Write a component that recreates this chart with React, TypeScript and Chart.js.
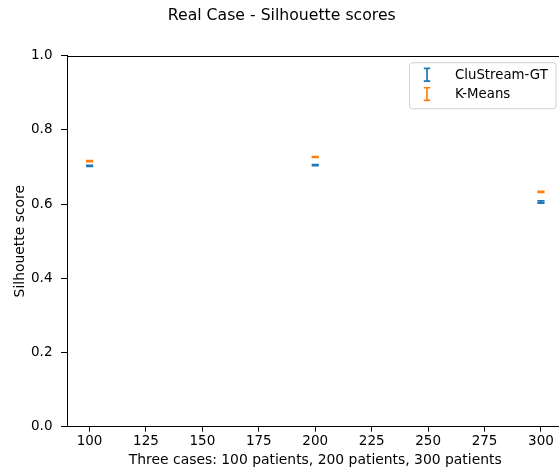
import React, { useEffect, useRef } from "react";
import { Chart, registerables } from "chart.js";

Chart.register(...registerables);

const cases = [100, 200, 300];
const xTickValues = [100, 125, 150, 175, 200, 225, 250, 275, 300];
const yTickValues = [0, 0.2, 0.4, 0.6, 0.8, 1.0];
const seriesNames = ["CluStream-GT", "K-Means"];
const clustreamScores = [0.703, 0.705, 0.606];
const clustreamErrors = [0.0012, 0.0012, 0.003];
const kmeansScores = [0.716, 0.727, 0.633];
const kmeansErrors = [0.0012, 0.0012, 0.0012];
const seriesColors = ["#1f77b4", "#ff7f0e"];

const FONT = "DejaVu Sans";

const errorBarPlugin = {
  id: "errorBars",
  afterDatasetsDraw(chart: any) {
    const { ctx } = chart;
    const xs = chart.scales.x;
    const ys = chart.scales.y;
    const all = [
      { v: clustreamScores, e: clustreamErrors, c: seriesColors[0] },
      { v: kmeansScores, e: kmeansErrors, c: seriesColors[1] },
    ];
    ctx.save();
    const area = chart.chartArea;
    ctx.beginPath();
    ctx.rect(area.left, area.top, area.right - area.left, area.bottom - area.top);
    ctx.clip();
    all.forEach((s) => {
      ctx.strokeStyle = s.c;
      ctx.lineWidth = 1.8;
      cases.forEach((cx, i) => {
        const px = xs.getPixelForValue(cx);
        const t = ys.getPixelForValue(s.v[i] + s.e[i]);
        const b = ys.getPixelForValue(s.v[i] - s.e[i]);
        ctx.beginPath();
        ctx.moveTo(px, t);
        ctx.lineTo(px, b);
        ctx.moveTo(px - 3.6, t);
        ctx.lineTo(px + 3.6, t);
        ctx.moveTo(px - 3.6, b);
        ctx.lineTo(px + 3.6, b);
        ctx.stroke();
      });
    });
    ctx.restore();
  },
  afterDraw(chart: any) {
    const { ctx, chartArea: a } = chart;
    ctx.save();
    // frame (top + right spines)
    ctx.strokeStyle = "#000";
    ctx.lineWidth = 1;
    ctx.beginPath();
    ctx.moveTo(Math.round(a.left) + 0.5, Math.round(a.top) + 0.5);
    ctx.lineTo(Math.round(a.right) + 0.5, Math.round(a.top) + 0.5);
    ctx.lineTo(Math.round(a.right) + 0.5, Math.round(a.bottom) + 0.5);
    ctx.stroke();

    // legend
    const w = 146.5;
    const h = 46;
    const x0 = a.right - 7.5 - w;
    const y0 = a.top + 7;
    const r = 3;
    ctx.beginPath();
    ctx.moveTo(x0 + r, y0);
    ctx.lineTo(x0 + w - r, y0);
    ctx.quadraticCurveTo(x0 + w, y0, x0 + w, y0 + r);
    ctx.lineTo(x0 + w, y0 + h - r);
    ctx.quadraticCurveTo(x0 + w, y0 + h, x0 + w - r, y0 + h);
    ctx.lineTo(x0 + r, y0 + h);
    ctx.quadraticCurveTo(x0, y0 + h, x0, y0 + h - r);
    ctx.lineTo(x0, y0 + r);
    ctx.quadraticCurveTo(x0, y0, x0 + r, y0);
    ctx.closePath();
    ctx.fillStyle = "rgba(255,255,255,0.8)";
    ctx.fill();
    ctx.strokeStyle = "#d0d0d0";
    ctx.lineWidth = 1;
    ctx.stroke();

    ctx.font = `13.3px "${FONT}"`;
    ctx.textBaseline = "middle";
    ctx.textAlign = "left";
    seriesNames.forEach((name, i) => {
      const cy = y0 + 12 + i * 19.3;
      const ix = x0 + 17.5;
      ctx.strokeStyle = seriesColors[i];
      ctx.lineWidth = 1.7;
      ctx.beginPath();
      ctx.moveTo(ix, cy - 6.3);
      ctx.lineTo(ix, cy + 6.3);
      ctx.moveTo(ix - 3.2, cy - 6.3);
      ctx.lineTo(ix + 3.2, cy - 6.3);
      ctx.moveTo(ix - 3.2, cy + 6.3);
      ctx.lineTo(ix + 3.2, cy + 6.3);
      ctx.stroke();
      ctx.fillStyle = "#000";
      ctx.fillText(name, x0 + 45.5, cy + 0.5);
    });
    ctx.restore();
  },
};

export default function App() {
  const ref = useRef<HTMLCanvasElement | null>(null);

  useEffect(() => {
    document.body.style.margin = "0";
    document.body.style.overflow = "hidden";
    const canvas = ref.current;
    if (!canvas) return;
    const tickFont = { family: FONT, size: 13.5 };
    const labelFont = { family: FONT, size: 13.9 };
    const chart = new Chart(canvas, {
      type: "scatter",
      data: {
        datasets: [
          {
            label: seriesNames[0],
            data: cases.map((x, i) => ({ x, y: clustreamScores[i] })),
            pointRadius: 0,
            showLine: false,
            borderColor: seriesColors[0],
            backgroundColor: seriesColors[0],
          },
          {
            label: seriesNames[1],
            data: cases.map((x, i) => ({ x, y: kmeansScores[i] })),
            pointRadius: 0,
            showLine: false,
            borderColor: seriesColors[1],
            backgroundColor: seriesColors[1],
          },
        ],
      },
      options: {
        animation: false,
        responsive: false,
        devicePixelRatio: 1,
        layout: { padding: { left: 0, right: 10.5, top: 0, bottom: 0 } },
        plugins: {
          legend: { display: false },
          tooltip: { enabled: false },
          title: {
            display: true,
            text: "Real Case - Silhouette scores",
            color: "#000",
            font: { family: FONT, size: 15.7, weight: "normal" },
            padding: { top: 6.5, bottom: 30.4 },
          },
        },
        scales: {
          x: {
            type: "linear",
            min: 90,
            max: 310,
            afterBuildTicks: (s: any) => {
              s.ticks = xTickValues.map((v) => ({ value: v }));
            },
            afterFit: (s: any) => {
              s.height = 45.3;
            },
            ticks: {
              color: "#000",
              font: tickFont,
              padding: 2,
              maxRotation: 0,
              autoSkip: false,
              callback: (v: any) => String(v),
            },
            grid: {
              display: true,
              drawOnChartArea: false,
              drawTicks: true,
              tickLength: 5,
              color: "#000",
            },
            border: { display: true, color: "#000", width: 1 },
            title: {
              display: true,
              text: "Three cases: 100 patients, 200 patients, 300 patients",
              color: "#000",
              font: labelFont,
              padding: { top: 0, bottom: 3.5 },
            },
          },
          y: {
            type: "linear",
            min: 0,
            max: 1,
            afterBuildTicks: (s: any) => {
              s.ticks = yTickValues.map((v) => ({ value: v }));
            },
            afterFit: (s: any) => {
              s.width = 67;
            },
            ticks: {
              color: "#000",
              font: tickFont,
              padding: 8.5,
              callback: (v: any) => Number(v).toFixed(1),
            },
            grid: {
              display: true,
              drawOnChartArea: false,
              drawTicks: true,
              tickLength: 6,
              color: "#000",
            },
            border: { display: true, color: "#000", width: 1 },
            title: {
              display: true,
              text: "Silhouette score",
              color: "#000",
              font: labelFont,
              padding: { top: 12.5, bottom: 0 },
            },
          },
        },
      },
      plugins: [errorBarPlugin],
    } as any);
    return () => chart.destroy();
  }, []);

  return (
    <div style={{ width: 574, height: 472, overflow: "hidden" }}>
      <canvas ref={ref} width={574} height={472} style={{ display: "block" }} />
    </div>
  );
}
